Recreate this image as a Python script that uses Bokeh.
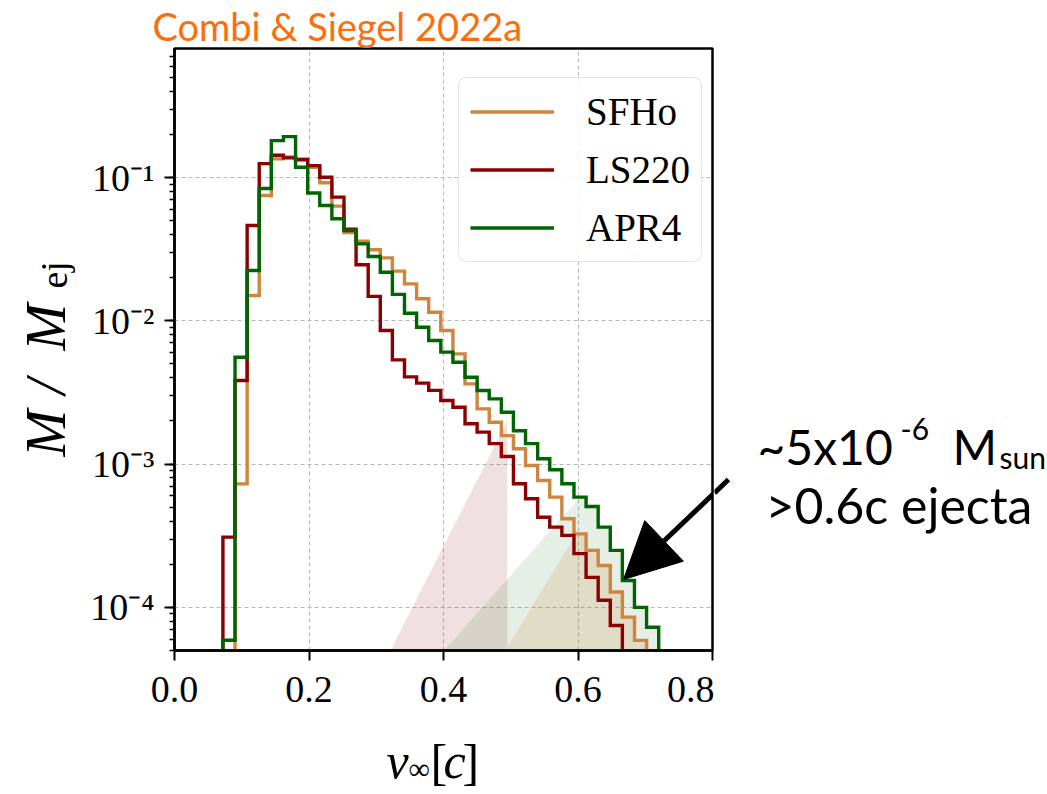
import numpy as np
from bokeh.plotting import figure
from bokeh.layouts import row, column
from bokeh.models import (Range1d, Label, Arrow, NormalHead, FixedTicker,
                          PrintfTickFormatter, CustomJSTickFormatter)
from bokeh.embed import file_html
from bokeh.resources import INLINE

# ---------------- data ----------------
BIN_EDGES = [0.072, 0.090, 0.108, 0.126, 0.144, 0.162, 0.180, 0.198, 0.216,
             0.234, 0.252, 0.270, 0.288, 0.306, 0.324, 0.342, 0.360, 0.378,
             0.396, 0.414, 0.432, 0.450, 0.468, 0.486, 0.504, 0.522, 0.540,
             0.558, 0.576, 0.594, 0.612, 0.630, 0.648, 0.666, 0.684, 0.702,
             0.720]

SFHO = [0, 7.28e-4, 0.01503, 0.0749, 0.135, 0.139, 0.135, 0.118, 0.092,
        0.0631, 0.0413, 0.0359, 0.0313, 0.0275, 0.0222, 0.0181, 0.01426,
        0.01148, 0.00855, 0.00588, 0.00363, 0.00243, 0.00196, 0.00158,
        0.00128, 9.77e-4, 7.68e-4, 5.88e-4, 4.15e-4, 3.26e-4, 2.50e-4,
        1.96e-4, 1.28e-4, 8.55e-5, 5.88e-5, 0]

LS220 = [3.09e-4, 3.83e-3, 0.0462, 0.125, 0.143, 0.137, 0.133, 0.121,
         0.1005, 0.073, 0.0435, 0.0246, 0.0148, 0.00855, 0.00534, 0.00406,
         0.00367, 0.00327, 0.00278, 0.00249, 0.00191, 0.00167, 0.00139,
         0.00113, 7.29e-4, 5.73e-4, 4.26e-4, 3.63e-4, 3.18e-4, 2.37e-4,
         1.62e-4, 1.12e-4, 7.48e-5, 0, 0, 0]

APR4 = [5.9e-5, 5.57e-3, 0.02245, 0.0838, 0.181, 0.193, 0.118, 0.078,
        0.0638, 0.0515, 0.0427, 0.0344, 0.0281, 0.0218, 0.0153, 0.0113,
        0.00902, 0.00729, 0.00604, 0.00514, 0.00404, 0.00326, 0.00285,
        0.00230, 0.00171, 0.00139, 0.00109, 9.12e-4, 7.29e-4, 5.88e-4,
        5.06e-4, 3.63e-4, 2.50e-4, 1.54e-4, 1.00e-4, 7.27e-5]

SERIES_NAMES = ["SFHo", "LS220", "APR4"]
SERIES_COLORS = ["#cd853f", "#8b0000", "#006400"]

X_TICKS = [0.0, 0.2, 0.4, 0.6, 0.8]
X_RANGE = [0.0, 0.8]
Y_RANGE = [5e-5, 0.795]

# translucent wedges: sloped edge from (x0, y0) to (x1, y1), clipped by a curve
WEDGE_A_X, WEDGE_A_Y = [0.321, 0.495], [5.0e-5, 2.0e-3]
WEDGE_B_X, WEDGE_B_Y = [0.401, 0.599], [5.0e-5, 5.6e-4]
WEDGE_C_X, WEDGE_C_Y = [0.492, 0.618], [5.0e-5, 4.7e-4]

TITLE_TEXT = "Combi & Siegel 2022a"
NOTE_MAIN = "~5x10"
NOTE_EXP = "-6"
NOTE_M = "M"
NOTE_SUB = "sun"
NOTE_LINE2 = ">0.6c ejecta"

FLOOR = 1e-9
SERIF = "Liberation Serif"
SANS = "Lato"
TXT_SHIFT = 16   # measured drop of alphabetic-baseline labels, compensated below

# ---------------- geometry (page pixels) ----------------
TOTAL_W = 1046
LEFT_W = 80
FL, FR, FT, FB = 174, 712, 48, 650
MAIN_RIGHT = FR + 2
MID_BOTTOM = 720
BOTTOM_H = 72
LY0, LY1 = np.log10(Y_RANGE[0]), np.log10(Y_RANGE[1])


def dx(px):
    return X_RANGE[0] + (px - FL) / (FR - FL) * (X_RANGE[1] - X_RANGE[0])


def dy(py):
    return 10 ** (LY0 + (FB - py) / (FB - FT) * (LY1 - LY0))


def step_xy(edges, vals):
    xs, ys = [edges[0]], [FLOOR]
    for i, v in enumerate(vals):
        v = v if v > 0 else FLOOR
        xs += [edges[i], edges[i + 1]]
        ys += [v, v]
    xs.append(edges[-1])
    ys.append(FLOOR)
    return xs, ys


def curve_at(x, edges, vals):
    e = np.asarray(edges)
    v = np.asarray([max(a, FLOOR) for a in vals])
    idx = np.searchsorted(e, x, side="right") - 1
    out = np.full_like(x, FLOOR, dtype=float)
    ok = (idx >= 0) & (idx < len(v))
    out[ok] = v[idx[ok]]
    return out


def wedge(wx, wy, xend, edges, vals):
    xs = np.linspace(wx[0], xend, 1200)
    extra = [e + d for e in edges for d in (-1e-6, 1e-6) if wx[0] < e < xend]
    xs = np.unique(np.concatenate([xs, extra]))
    ly = np.log10(wy[0]) + (xs - wx[0]) * (np.log10(wy[1]) - np.log10(wy[0])) / (wx[1] - wx[0])
    lc = np.log10(curve_at(xs, edges, vals))
    top = 10 ** np.minimum(ly, lc)
    px = np.concatenate([[wx[0]], xs, [xend]])
    py = np.concatenate([[FLOOR], top, [FLOOR]])
    return px, py


def no_align(f):
    try:
        f.frame_align = False
    except Exception:
        pass


def canvas(x0, y0, w, h):
    f = figure(width=w, height=h, x_range=Range1d(x0, x0 + w),
               y_range=Range1d(y0 + h, y0), min_border=0,
               x_axis_location=None, y_axis_location=None,
               toolbar_location=None, output_backend="svg",
               background_fill_color="white", border_fill_color="white")
    f.grid.visible = False
    f.outline_line_color = None
    no_align(f)
    return f


def lab(f, px, py, text, size, font=SERIF, style="normal", color="black", rotated=False):
    # (px, py) is the wanted baseline start in page pixels
    if rotated:
        x, y, ang = px - TXT_SHIFT - 1, py, np.pi / 2
    else:
        x, y, ang = px, py - TXT_SHIFT, 0.0
    f.add_layout(Label(x=x, y=y, text=text, text_font=font,
                       text_font_size=f"{size}px", text_font_style=style,
                       text_color=color, text_baseline="alphabetic",
                       text_align="left", angle=ang))


# ---------------- main plot ----------------
p = figure(frame_width=FR - FL, frame_height=FB - FT,
           min_border_left=FL - LEFT_W, min_border_right=MAIN_RIGHT - FR,
           min_border_top=FT, min_border_bottom=MID_BOTTOM - FB,
           x_range=Range1d(*X_RANGE), y_range=Range1d(*Y_RANGE),
           y_axis_type="log", output_backend="svg", toolbar_location=None,
           background_fill_color="white", border_fill_color="white",
           title=TITLE_TEXT)
no_align(p)
p.title.align = "left"
p.title.offset = 152 - FL
p.title.standoff = 0
p.title.text_font = SANS
p.title.text_font_size = "38px"
p.title.text_font_style = "normal"
p.title.text_color = "#ff6c0a"

ax_, ay_ = wedge(WEDGE_A_X, WEDGE_A_Y, WEDGE_A_X[1], BIN_EDGES, APR4)
p.patch(ax_, ay_, fill_color="#8b0000", fill_alpha=0.12, line_color=None)
bx_, by_ = wedge(WEDGE_B_X, WEDGE_B_Y, BIN_EDGES[-1], BIN_EDGES, APR4)
p.patch(bx_, by_, fill_color="#006400", fill_alpha=0.10, line_color=None)
cx_, cy_ = wedge(WEDGE_C_X, WEDGE_C_Y, BIN_EDGES[-1], BIN_EDGES, SFHO)
p.patch(cx_, cy_, fill_color="#cd853f", fill_alpha=0.18, line_color=None)

for name, vals, col in zip(SERIES_NAMES, [SFHO, LS220, APR4], SERIES_COLORS):
    xs, ys = step_xy(BIN_EDGES, vals)
    p.line(xs, ys, line_color=col, line_width=3.4, line_join="miter",
           legend_label=name)

for ax in (p.xaxis[0], p.yaxis[0]):
    ax.axis_line_color = "black"
    ax.axis_line_width = 2.5
    ax.major_tick_line_color = "black"
    ax.major_tick_line_width = 2
    ax.major_tick_out = 10
    ax.major_tick_in = 0
    ax.minor_tick_line_color = "black"
    ax.minor_tick_line_width = 1.5
    ax.minor_tick_out = 5
    ax.minor_tick_in = 0
    ax.major_label_text_font = SERIF
    ax.major_label_text_font_size = "38px"
    ax.major_label_text_color = "black"
p.xaxis.minor_tick_line_color = None
p.xaxis.ticker = FixedTicker(ticks=X_TICKS)
p.xaxis.formatter = PrintfTickFormatter(format="%.1f")
p.xaxis.major_label_standoff = 16
p.yaxis.major_label_standoff = 10
p.yaxis.formatter = CustomJSTickFormatter(code="""
const sup = {"-": "\u207b", "0": "\u2070", "1": "\u00b9", "2": "\u00b2", "3": "\u00b3",
             "4": "\u2074", "5": "\u2075", "6": "\u2076", "7": "\u2077", "8": "\u2078", "9": "\u2079"};
const e = Math.round(Math.log10(tick));
return "10" + String(e).split("").map(c => sup[c]).join("");
""")

p.outline_line_color = "black"
p.outline_line_width = 2.5
p.outline_line_alpha = 1.0

for g in (p.xgrid[0], p.ygrid[0]):
    g.grid_line_color = "#b8b8b8"
    g.grid_line_dash = "4 3"
    g.grid_line_width = 1

lg = p.legend[0]
lg.location = (458 - FL, FB - 262)
lg.label_text_font = SERIF
lg.label_text_font_size = "39px"
lg.label_text_color = "black"
lg.glyph_width = 84
lg.glyph_height = 43
lg.label_height = 43
lg.spacing = 13
lg.padding = 11
lg.label_standoff = 32
lg.border_line_color = "#cccccc"
lg.border_line_width = 1.5
lg.background_fill_alpha = 0.85
try:
    lg.border_radius = 8
except Exception:
    pass

p.add_layout(Arrow(end=NormalHead(size=56, fill_color="black", line_color="black"),
                   x_start=dx(727), y_start=dy(480), x_end=dx(623), y_end=dy(579),
                   line_color="black", line_width=5))

# ---------------- surrounding text canvases ----------------
left = canvas(0, 0, LEFT_W, MID_BOTTOM)
lab(left, 62, 456, "M", 56, style="italic", rotated=True)
lab(left, 62, 394, "/", 56, style="italic", rotated=True)
lab(left, 62, 350, "M", 56, style="italic", rotated=True)
lab(left, 70, 288, "ej", 38, rotated=True)

right = canvas(MAIN_RIGHT, 0, TOTAL_W - MAIN_RIGHT, MID_BOTTOM)
right.line([MAIN_RIGHT, 728], [492.4, 479], line_color="black", line_width=5)
lab(right, 757, 462, NOTE_MAIN, 48, font=SANS)
lab(right, 900, 444, NOTE_EXP, 30, font=SANS)
lab(right, 952, 462, NOTE_M, 48, font=SANS)
lab(right, 999, 472, NOTE_SUB, 30, font=SANS)
lab(right, 765, 520, NOTE_LINE2, 50, font=SANS)

bottom = canvas(0, MID_BOTTOM, TOTAL_W, BOTTOM_H)
lab(bottom, 386, 776, "v", 50, style="italic")
lab(bottom, 408, 784, "\u221e", 30)
lab(bottom, 430, 777, "[", 50)
lab(bottom, 443, 776, "c", 50, style="italic")
lab(bottom, 462, 777, "]", 50)

mid = row(left, p, right, spacing=0)
layout = column(mid, bottom, spacing=0)

open("out.html", "w").write(file_html(layout, INLINE))
